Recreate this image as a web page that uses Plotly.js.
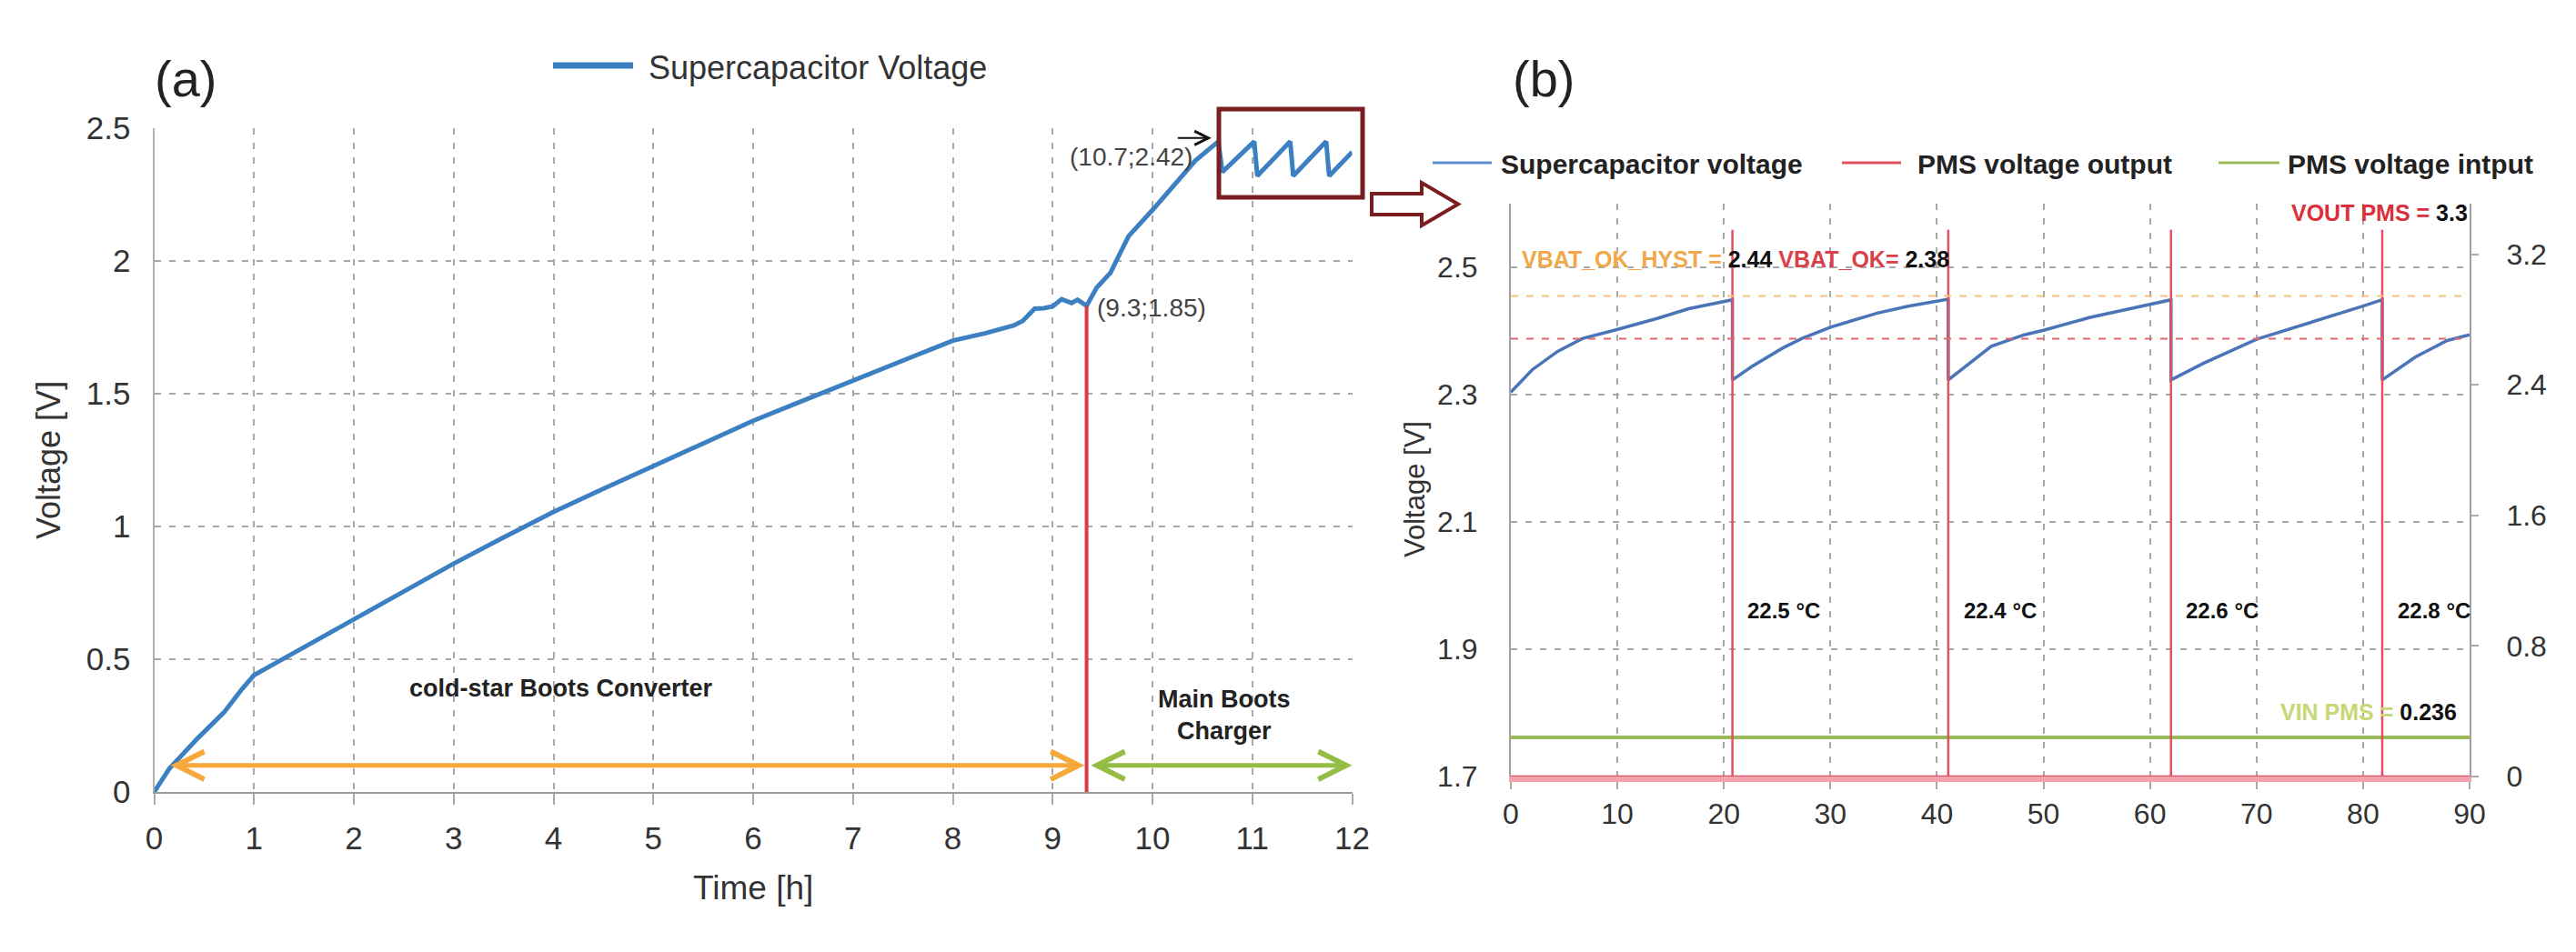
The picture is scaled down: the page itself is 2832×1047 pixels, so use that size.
<!DOCTYPE html>
<html>
<head>
<meta charset="utf-8">
<script src="https://cdn.plot.ly/plotly-3.0.1.min.js"></script>
<style>html,body{margin:0;padding:0;background:#fff;}#chart{width:2832px;height:1047px;}</style>
</head>
<body>
<div id="chart"></div>
<script>
// ---------- DATA ----------
// (a) supercapacitor voltage vs time [h]
const timeA = [0, 0.15, 0.43, 0.70, 0.87, 1.0, 1.19, 1.49, 1.99, 2.49, 3.0, 3.47, 4.0, 4.5, 5.0, 5.5, 6.0, 6.5, 7.0, 7.5, 8.0, 8.33, 8.61, 8.70, 8.82, 8.91, 9.0, 9.09, 9.19, 9.25, 9.34, 9.44, 9.58, 9.64, 9.76, 10.01, 10.25, 10.43, 10.66, 10.70, 11.02, 11.05, 11.38, 11.41, 11.74, 11.77, 12.0];
const voltA = [0, 0.087, 0.20, 0.30, 0.383, 0.44, 0.48, 0.543, 0.651, 0.753, 0.86, 0.953, 1.055, 1.142, 1.227, 1.313, 1.398, 1.474, 1.548, 1.625, 1.70, 1.728, 1.757, 1.774, 1.82, 1.822, 1.829, 1.856, 1.842, 1.854, 1.831, 1.899, 1.956, 2.002, 2.093, 2.196, 2.298, 2.378, 2.45, 2.335, 2.45, 2.32, 2.45, 2.32, 2.45, 2.32, 2.41];
const xTicksA = [0,1,2,3,4,5,6,7,8,9,10,11,12];
const yTicksA = [0, 0.5, 1, 1.5, 2, 2.5];
const switchTime = 9.34;      // end of cold-start phase
const switchVolt = 1.83;
const phaseStart = 0.15, phaseEnd = 12, phaseLevel = 0.1;

// (b) supercapacitor voltage vs time, PMS output/input
const timeB = [0, 2, 4.4, 6.7, 9.7, 13.8, 16.7, 20.8, 20.8, 22.6, 25.5, 27.3, 30, 34.4, 37.3, 41.06, 41.06, 45.1, 48.2, 50, 54.3, 60, 61.97, 61.97, 65, 70, 75.7, 80, 81.8, 81.8, 84.9, 87.9, 90];
const voltB = [2.304, 2.339, 2.368, 2.388, 2.401, 2.42, 2.435, 2.449, 2.323, 2.344, 2.373, 2.388, 2.406, 2.428, 2.439, 2.45, 2.323, 2.376, 2.394, 2.401, 2.421, 2.442, 2.449, 2.323, 2.349, 2.387, 2.416, 2.439, 2.449, 2.323, 2.359, 2.385, 2.394];
const pulseTimes = [20.8, 41.06, 61.97, 81.8];
const pulseLevel = 3.35;
const vinLevel = 0.24;
const hystLevel = 2.455, okLevel = 2.388;
const tempLabels = ['22.5 °C', '22.4 °C', '22.6 °C', '22.8 °C'];
const xTicksB = [0,10,20,30,40,50,60,70,80,90];
const yTicksB = [1.7, 1.9, 2.1, 2.3, 2.5];
const y2TicksB = [0, 0.8, 1.6, 2.4, 3.2];

// ---------- build PMS output series from pulses ----------
const pmsT = [0], pmsV = [0];
pulseTimes.forEach(t => { pmsT.push(t, t, t); pmsV.push(0, pulseLevel, 0); });
pmsT.push(90); pmsV.push(0);

// ---------- layout helpers ----------
const W = 2832, H = 1047;
const px = x => x / W, py = y => 1 - y / H;
const FONT = 'Liberation Sans, Arial, sans-serif';
const GRID = '#a9a9a9';

const traces = [
  {x: timeA, y: voltA, xaxis: 'x', yaxis: 'y', mode: 'lines', name: 'Supercapacitor Voltage',
   line: {color: '#3c80c2', width: 5}},
  {x: [switchTime, switchTime], y: [0, switchVolt], xaxis: 'x', yaxis: 'y', mode: 'lines',
   line: {color: '#dc3a46', width: 4}, hoverinfo: 'skip'},
  {x: [0, 90], y: [vinLevel, vinLevel], xaxis: 'x2', yaxis: 'y3', mode: 'lines', name: 'PMS voltage intput',
   line: {color: '#9bbb59', width: 4}},
  {x: pmsT, y: pmsV, xaxis: 'x2', yaxis: 'y3', mode: 'lines', name: 'PMS voltage output',
   line: {color: '#e4505f', width: 2.5}, cliponaxis: false},
  {x: timeB, y: voltB, xaxis: 'x2', yaxis: 'y2', mode: 'lines', name: 'Supercapacitor voltage',
   line: {color: '#4a74b8', width: 3.5}}
];

const tickFont = {family: FONT, size: 35, color: '#333'};
const tickFontB = {family: FONT, size: 32, color: '#333'};

const annotations = [];
function ann(o){ annotations.push(Object.assign({showarrow: false, xanchor: 'center', yanchor: 'middle',
  font: {family: FONT, size: 28, color: '#222'}}, o)); }

// panel letters
ann({xref:'paper', yref:'paper', x: px(204), y: py(86), text: '(a)', font:{family:FONT,size:56,color:'#222'}});
ann({xref:'paper', yref:'paper', x: px(1697), y: py(86), text: '(b)', font:{family:FONT,size:56,color:'#222'}});
// legend (a)
ann({xref:'paper', yref:'paper', x: px(711), y: py(74), xanchor:'left', text: 'Supercapacitor Voltage', font:{family:FONT,size:36,color:'#333'}});
// legend (b)
ann({xref:'paper', yref:'paper', x: px(1648), y: py(180), xanchor:'left', text: '<b>Supercapacitor voltage</b>', font:{family:FONT,size:30,color:'#222'}});
ann({xref:'paper', yref:'paper', x: px(2106), y: py(180), xanchor:'left', text: '<b>PMS voltage output</b>', font:{family:FONT,size:30,color:'#222'}});
ann({xref:'paper', yref:'paper', x: px(2513), y: py(180), xanchor:'left', text: '<b>PMS voltage intput</b>', font:{family:FONT,size:30,color:'#222'}});
// axis titles
ann({xref:'paper', yref:'paper', x: px(53), y: py(506), textangle: -90, text: 'Voltage [V]', font:{family:FONT,size:36,color:'#333'}});
ann({xref:'paper', yref:'paper', x: px(828), y: py(976), text: 'Time [h]', font:{family:FONT,size:37,color:'#333'}});
ann({xref:'paper', yref:'paper', x: px(1555), y: py(538), textangle: -90, text: 'Voltage [V]', font:{family:FONT,size:31,color:'#333'}});

// (a) annotations
ann({xref:'x', yref:'y', x: 10.42, y: 2.392, xanchor:'right', text: '(10.7;2.42)', font:{family:FONT,size:28,color:'#444'}});
ann({xref:'x', yref:'y', x: 9.43, y: 1.823, xanchor:'left', text: '(9.3;1.85)', font:{family:FONT,size:28,color:'#444'}});
ann({xref:'x', yref:'y', x: 4.08, y: 0.39, text: '<b>cold-star Boots Converter</b>', font:{family:FONT,size:27,color:'#222'}});
ann({xref:'x', yref:'y', x: 10.72, y: 0.29, text: '<b>Main Boots<br>Charger</b>', font:{family:FONT,size:27,color:'#222'}});
// arrows (a)
annotations.push({xref:'x', yref:'y', axref:'x', ayref:'y', x: switchTime - 0.02, y: phaseLevel, ax: phaseStart, ay: phaseLevel,
  text: '', showarrow: true, arrowside: 'end+start', arrowhead: 5, startarrowhead: 5, arrowsize: 1.2, startarrowsize: 1.2,
  arrowwidth: 5, arrowcolor: '#f6a83a', standoff: 0, startstandoff: 0});
annotations.push({xref:'x', yref:'y', axref:'x', ayref:'y', x: phaseEnd, y: phaseLevel, ax: switchTime + 0.03, ay: phaseLevel,
  text: '', showarrow: true, arrowside: 'end+start', arrowhead: 5, startarrowhead: 5, arrowsize: 1.2, startarrowsize: 1.2,
  arrowwidth: 5, arrowcolor: '#95bd45', standoff: 0, startstandoff: 0});
annotations.push({xref:'x', yref:'y', axref:'x', ayref:'y', x: 10.59, y: 2.463, ax: 10.24, ay: 2.463,
  text: '', showarrow: true, arrowhead: 5, arrowsize: 1.5, arrowwidth: 2, arrowcolor: '#111', standoff: 0});

// (b) annotations
ann({xref:'x2', yref:'y2', x: 0.88, y: 2.513, xanchor:'left',
  text: '<b><span style="color:#f0a848">VBAT_OK_HYST = </span>2.44 <span style="color:#d9404a">VBAT_OK= </span>2.38</b>',
  font:{family:FONT,size:25,color:'#111'}});
ann({xref:'x2', yref:'y2', x: 90, y: 2.585, xanchor:'right',
  text: '<b><span style="color:#d9303c">VOUT PMS = </span>3.3</b>', font:{family:FONT,size:25,color:'#111'}});
ann({xref:'x2', yref:'y2', x: 89.0, y: 1.801, xanchor:'right',
  text: '<b><span style="color:#c8d674">VIN PMS = </span>0.236</b>', font:{family:FONT,size:25,color:'#111'}});
pulseTimes.forEach((t, i) => {
  ann({xref:'x2', yref:'y2', x: t + 1.25, y: 1.961, xanchor:'left', text: '<b>' + tempLabels[i] + '</b>',
       font:{family:FONT,size:24,color:'#111'}});
});

// shapes
const shapes = [
  // legend (a) sample
  {type:'line', xref:'paper', yref:'paper', x0: px(608), x1: px(696), y0: py(72), y1: py(72), line:{color:'#3c80c2', width:7}},
  // legend (b) samples
  {type:'line', xref:'paper', yref:'paper', x0: px(1575), x1: px(1640), y0: py(179), y1: py(179), line:{color:'#5b8fd0', width:3}},
  {type:'line', xref:'paper', yref:'paper', x0: px(2025), x1: px(2090), y0: py(179), y1: py(179), line:{color:'#e4505f', width:3}},
  {type:'line', xref:'paper', yref:'paper', x0: px(2439), x1: px(2506), y0: py(179), y1: py(179), line:{color:'#9bbb59', width:3}},
  // threshold lines (b)
  {type:'line', xref:'x2', yref:'y2', x0: 0, x1: 90, y0: hystLevel, y1: hystLevel, line:{color:'#f5c27c', width:2, dash:'8px,9px'}},
  {type:'line', xref:'x2', yref:'y2', x0: 0, x1: 90, y0: okLevel, y1: okLevel, line:{color:'#e06672', width:2, dash:'8px,9px'}},
  // zoom box on (a)
  {type:'rect', xref:'paper', yref:'paper', x0: px(1340), x1: px(1498), y0: py(120), y1: py(217), line:{color:'#7b1e22', width:5}},
  // hollow arrow
  {type:'path', xref:'paper', yref:'paper', fillcolor:'#fff', line:{color:'#7b1e22', width:4},
   path: 'M' + px(1508) + ',' + py(213) + ' L' + px(1563) + ',' + py(213) + ' L' + px(1563) + ',' + py(201) +
         ' L' + px(1603) + ',' + py(224.5) + ' L' + px(1563) + ',' + py(248) + ' L' + px(1563) + ',' + py(236) +
         ' L' + px(1508) + ',' + py(236) + ' Z'}
];

const layout = {
  width: W, height: H, margin: {l:0, r:0, t:0, b:0},
  paper_bgcolor: '#fff', plot_bgcolor: '#fff', showlegend: false,
  font: {family: FONT},
  xaxis: {domain: [px(169.5), px(1486.5)], range: [0, 12], tickvals: xTicksA, ticktext: xTicksA.map(String),
          showgrid: true, gridcolor: GRID, gridwidth: 2, griddash: '7px,9px', zeroline: false,
          showline: true, linecolor: '#9a9a9a', linewidth: 2, ticks: 'outside', ticklen: 12, tickcolor: '#aaa', tickwidth: 2,
          tickfont: tickFont, ticklabelstandoff: 7, anchor: 'y'},
  yaxis: {domain: [py(871), py(141)], range: [0, 2.5], tickvals: yTicksA, ticktext: yTicksA.map(String),
          showgrid: true, gridcolor: GRID, gridwidth: 2, griddash: '7px,9px', zeroline: false,
          showline: true, linecolor: '#b0b0b0', linewidth: 2, ticks: '', tickfont: tickFont, ticklabelstandoff: 17, anchor: 'x'},
  xaxis2: {domain: [px(1661), px(2715)], range: [0, 90], tickvals: xTicksB, ticktext: xTicksB.map(String),
           showgrid: true, gridcolor: GRID, gridwidth: 2, griddash: '7px,9px', zeroline: false,
           showline: true, linecolor: '#f4a3ad', linewidth: 6, ticks: 'outside', ticklen: 8, tickcolor: '#aaa', tickwidth: 2,
           tickfont: tickFontB, ticklabelstandoff: 0, anchor: 'y2'},
  yaxis2: {domain: [py(854), py(224)], range: [1.7, 2.6], tickvals: yTicksB, ticktext: yTicksB.map(v => v.toFixed(1)),
           showgrid: true, gridcolor: GRID, gridwidth: 2, griddash: '7px,9px', zeroline: false,
           showline: true, linecolor: '#a0a0a0', linewidth: 2, ticks: '', tickfont: tickFontB, ticklabelstandoff: 28, anchor: 'x2'},
  yaxis3: {domain: [py(854), py(224)], range: [0, 3.51], overlaying: 'y2', side: 'right', anchor: 'x2',
           tickvals: y2TicksB, ticktext: y2TicksB.map(String), showgrid: false, zeroline: false,
           showline: true, linecolor: '#a0a0a0', linewidth: 2, ticks: 'outside', ticklen: 8, tickcolor: '#aaa', tickwidth: 2,
           tickfont: tickFontB, ticklabelstandoff: 24},
  annotations: annotations,
  shapes: shapes
};

Plotly.newPlot('chart', traces, layout, {displayModeBar: false, responsive: false});
</script>
</body>
</html>
